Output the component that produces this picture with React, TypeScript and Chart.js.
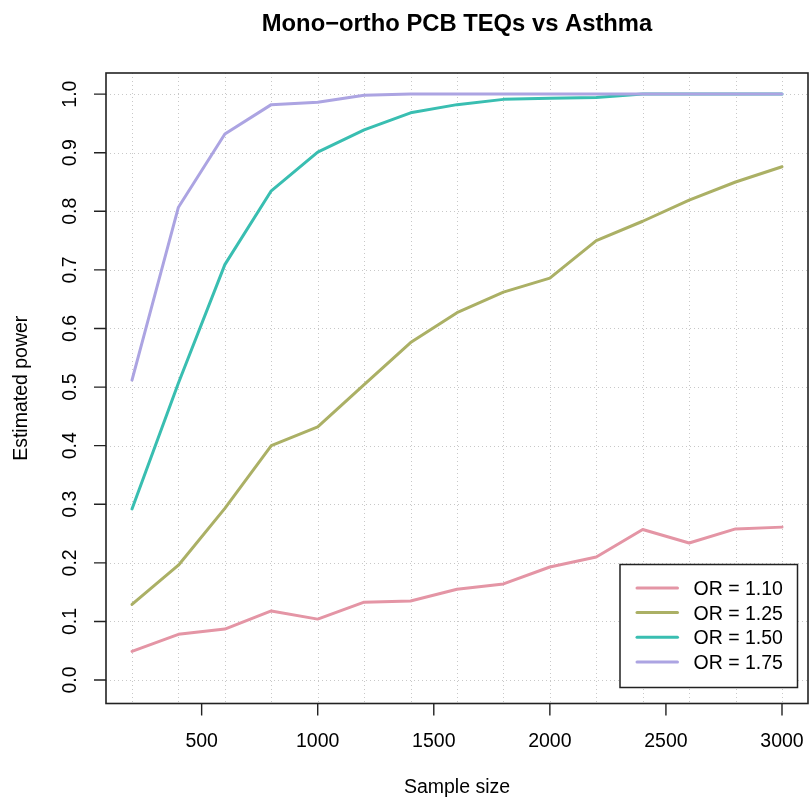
import React, { useEffect, useRef } from "react";
import { Chart, registerables } from "chart.js";

Chart.register(...registerables);

// ---- data ----
const sampleSizes = [200, 400, 600, 800, 1000, 1200, 1400, 1600, 1800, 2000, 2200, 2400, 2600, 2800, 3000];
const powerOR110 = [0.049, 0.078, 0.087, 0.118, 0.104, 0.133, 0.135, 0.155, 0.164, 0.193, 0.21, 0.257, 0.234, 0.258, 0.261];
const powerOR125 = [0.129, 0.196, 0.293, 0.4, 0.432, 0.504, 0.576, 0.627, 0.662, 0.686, 0.75, 0.783, 0.819, 0.85, 0.876];
const powerOR150 = [0.292, 0.507, 0.709, 0.835, 0.901, 0.939, 0.968, 0.982, 0.991, 0.993, 0.994, 1.0, 1.0, 1.0, 1.0];
const powerOR175 = [0.512, 0.807, 0.932, 0.982, 0.986, 0.998, 1.0, 1.0, 1.0, 1.0, 1.0, 1.0, 1.0, 1.0, 1.0];
const seriesLabels = ["OR = 1.10", "OR = 1.25", "OR = 1.50", "OR = 1.75"];
const seriesColors = ["#E495A5", "#ABB065", "#39BEB1", "#ACA4E2"];
const xTickValues = [500, 1000, 1500, 2000, 2500, 3000];
const xTickLabels = ["500", "1000", "1500", "2000", "2500", "3000"];
const yTickValues = [0, 0.1, 0.2, 0.3, 0.4, 0.5, 0.6, 0.7, 0.8, 0.9, 1.0];
const yTickLabels = ["0.0", "0.1", "0.2", "0.3", "0.4", "0.5", "0.6", "0.7", "0.8", "0.9", "1.0"];
const xGridValues = [200, 400, 600, 800, 1000, 1200, 1400, 1600, 1800, 2000, 2200, 2400, 2600, 2800, 3000];
const yGridValues = [0, 0.1, 0.2, 0.3, 0.4, 0.5, 0.6, 0.7, 0.8, 0.9, 1.0];
const chartTitle = "Mono\u2212ortho PCB TEQs vs Asthma";
const xAxisTitle = "Sample size";
const yAxisTitle = "Estimated power";

const FONT = '"Liberation Sans", Arial, Helvetica, sans-serif';
const BASE = 19.5;

const rPlotPlugin = {
  id: "rPlot",
  beforeDatasetsDraw(chart: any) {
    const { ctx, chartArea: a, scales } = chart;
    const xs = scales.x, ys = scales.y;
    ctx.save();
    ctx.beginPath();
    ctx.rect(a.left, a.top, a.right - a.left, a.bottom - a.top);
    ctx.clip();
    ctx.strokeStyle = "#C8C8C8";
    ctx.lineWidth = 1;
    ctx.setLineDash([1, 3]);
    xGridValues.forEach((v) => {
      const px = Math.round(xs.getPixelForValue(v)) + 0.5;
      ctx.beginPath();
      ctx.moveTo(px, a.top);
      ctx.lineTo(px, a.bottom);
      ctx.stroke();
    });
    yGridValues.forEach((v) => {
      const py = Math.round(ys.getPixelForValue(v)) + 0.5;
      ctx.beginPath();
      ctx.moveTo(a.left, py);
      ctx.lineTo(a.right, py);
      ctx.stroke();
    });
    ctx.restore();
  },
  afterDatasetsDraw(chart: any) {
    const { ctx, chartArea: a, scales } = chart;
    const xs = scales.x, ys = scales.y;
    ctx.save();
    // box
    ctx.strokeStyle = "#222";
    ctx.lineWidth = 1.6;
    ctx.strokeRect(a.left, a.top, a.right - a.left, a.bottom - a.top);
    // ticks
    const tl = 12;
    ctx.lineWidth = 1.4;
    ctx.beginPath();
    xTickValues.forEach((v) => {
      const px = xs.getPixelForValue(v);
      ctx.moveTo(px, a.bottom);
      ctx.lineTo(px, a.bottom + tl);
    });
    yTickValues.forEach((v) => {
      const py = ys.getPixelForValue(v);
      ctx.moveTo(a.left, py);
      ctx.lineTo(a.left - tl, py);
    });
    ctx.stroke();
    // tick labels
    ctx.fillStyle = "#000";
    ctx.font = `${BASE}px ${FONT}`;
    ctx.textAlign = "center";
    ctx.textBaseline = "alphabetic";
    xTickValues.forEach((v, i) => {
      ctx.fillText(xTickLabels[i], xs.getPixelForValue(v), a.bottom + 43);
    });
    yTickValues.forEach((v, i) => {
      ctx.save();
      ctx.translate(a.left - 30, ys.getPixelForValue(v));
      ctx.rotate(-Math.PI / 2);
      ctx.fillText(yTickLabels[i], 0, 0);
      ctx.restore();
    });
    // axis titles
    const cx = (a.left + a.right) / 2;
    const cy = (a.top + a.bottom) / 2;
    ctx.fillText(xAxisTitle, cx, a.bottom + 89.5);
    ctx.save();
    ctx.translate(a.left - 79.5, cy);
    ctx.rotate(-Math.PI / 2);
    ctx.fillText(yAxisTitle, 0, 0);
    ctx.restore();
    // main title
    ctx.font = `bold ${BASE * 1.22}px ${FONT}`;
    ctx.fillText(chartTitle, cx, 31);
    // legend
    const lw = 177.5, lh = 123;
    const lx = a.right - 10.5 - lw;
    const ly = a.bottom - 16 - lh;
    ctx.fillStyle = "#fff";
    ctx.fillRect(lx, ly, lw, lh);
    ctx.strokeStyle = "#222";
    ctx.lineWidth = 1.5;
    ctx.strokeRect(lx, ly, lw, lh);
    ctx.font = `${BASE}px ${FONT}`;
    ctx.textAlign = "left";
    seriesLabels.forEach((lab, i) => {
      const ry = ly + 23.4 + i * 24.7;
      ctx.strokeStyle = seriesColors[i];
      ctx.lineWidth = 3;
      ctx.lineCap = "round";
      ctx.beginPath();
      ctx.moveTo(lx + 17, ry);
      ctx.lineTo(lx + 57.5, ry);
      ctx.stroke();
      ctx.fillStyle = "#000";
      ctx.fillText(lab, lx + 73.5, ry + BASE * 0.358);
    });
    ctx.restore();
  },
};

export default function App() {
  const ref = useRef<HTMLCanvasElement | null>(null);
  useEffect(() => {
    if (!ref.current) return;
    const series = [powerOR110, powerOR125, powerOR150, powerOR175];
    const chart = new Chart(ref.current, {
      type: "line",
      data: {
        datasets: series.map((vals, i) => ({
          label: seriesLabels[i],
          data: sampleSizes.map((x, j) => ({ x, y: vals[j] })),
          borderColor: seriesColors[i],
          backgroundColor: seriesColors[i],
          borderWidth: 3,
          pointRadius: 0,
          tension: 0,
          fill: false,
          borderCapStyle: "round",
          borderJoinStyle: "round",
          order: series.length - 1 - i,
          clip: 0,
        })),
      },
      options: {
        animation: false,
        responsive: false,
        devicePixelRatio: 1,
        layout: { padding: { left: 106, top: 73, right: 2, bottom: 99.5 } },
        plugins: { legend: { display: false }, title: { display: false }, tooltip: { enabled: false } },
        scales: {
          x: { type: "linear", display: false, min: 88, max: 3112 },
          y: { type: "linear", display: false, min: -0.04, max: 1.036 },
        },
      },
      plugins: [rPlotPlugin],
    });
    return () => chart.destroy();
  }, []);
  return (
    <div style={{ position: "fixed", left: 0, top: 0, width: 810, height: 803, background: "#fff" }}>
      <canvas ref={ref} width={810} height={803} style={{ width: 810, height: 803, display: "block" }} />
    </div>
  );
}
